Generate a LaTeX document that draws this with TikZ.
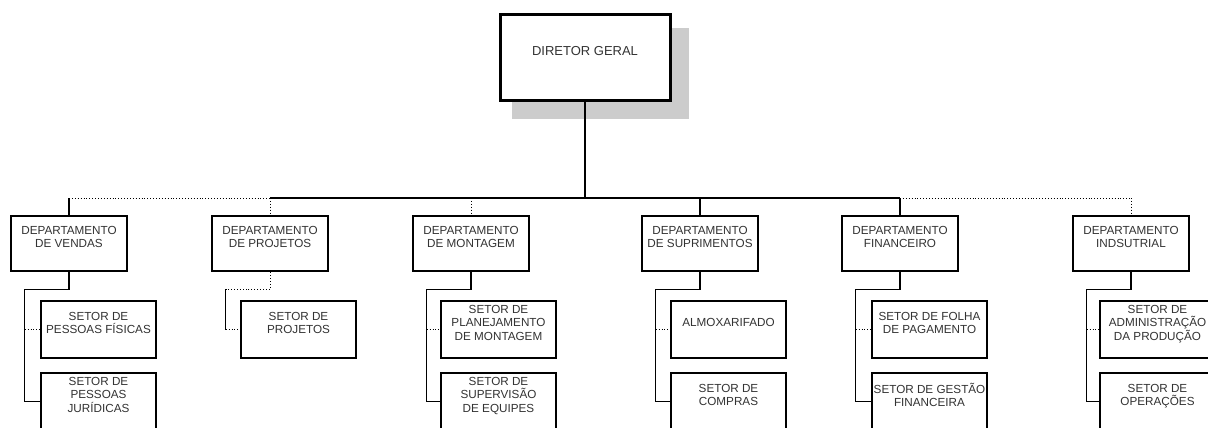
\documentclass[tikz,border=0pt]{standalone}
\usepackage{fontspec}
\setmainfont{Liberation Sans}
\usetikzlibrary{calc,backgrounds}
\begin{document}
\begin{tikzpicture}[x=1pt,y=-1pt,
  txt/.style={font=\fontsize{11.7}{13.5}\selectfont, text=black!80, align=center, inner sep=0pt},
  director/.style={txt, draw=black, line width=3pt, fill=white,
    minimum width=170pt, minimum height=85pt, font=\fontsize{13}{13.5}\selectfont},
  dept/.style={txt, draw=black, line width=2.6pt, fill=white,
    minimum width=116pt, minimum height=55pt},
  sector/.style={txt, draw=black, line width=1.2pt, fill=white,
    minimum width=115pt, minimum height=57pt},
  bus/.style={line width=1.5pt},
  drop/.style={line width=1.1pt},
  dotline/.style={line width=0.9pt, dotted},
  rail/.style={line width=1.4pt},
]
\useasboundingbox (0,0) rectangle (1208,428);

% top of the chart
\node[director] (dir) at (585,57.5) {DIRETOR GERAL\\\mbox{}};
\begin{scope}[on background layer]
  \fill[black!20] ($(dir.north west)+(13,15)$) rectangle ($(dir.south east)+(17,17)$);
\end{scope}

% departments
\node[dept] (dV) at (69,243.5)   {DEPARTAMENTO\\DE VENDAS\\\mbox{}};
\node[dept] (dP) at (270,243.5)  {DEPARTAMENTO\\DE PROJETOS\\\mbox{}};
\node[dept] (dM) at (471,243.5)  {DEPARTAMENTO\\DE MONTAGEM\\\mbox{}};
\node[dept] (dS) at (700,243.5)  {DEPARTAMENTO\\DE SUPRIMENTOS\\\mbox{}};
\node[dept] (dF) at (900,243.5)  {DEPARTAMENTO\\FINANCEIRO\\\mbox{}};
\node[dept] (dI) at (1131,243.5) {DEPARTAMENTO\\INDSUTRIAL\\\mbox{}};

% sectors
\node[sector] (sV1) at (98.5,329.5)   {SETOR DE\\PESSOAS FÍSICAS\\\mbox{}};
\node[sector] (sV2) at (98.5,401.5)   {SETOR DE\\PESSOAS\\JURÍDICAS\\\mbox{}};
\node[sector] (sP1) at (298.5,329.5)  {SETOR DE\\PROJETOS\\\mbox{}};
\node[sector] (sM1) at (498.5,329.5)  {SETOR DE\\PLANEJAMENTO\\DE MONTAGEM\\\mbox{}};
\node[sector] (sM2) at (498.5,401.5)  {SETOR DE\\SUPERVISÃO\\DE EQUIPES\\\mbox{}};
\node[sector] (sS1) at (728.5,329.5)  {ALMOXARIFADO\\\mbox{}};
\node[sector] (sS2) at (728.5,401.5)  {SETOR DE\\COMPRAS\\\mbox{}};
\node[sector] (sF1) at (929.5,329.5)  {SETOR DE FOLHA\\DE PAGAMENTO\\\mbox{}};
\node[sector] (sF2) at (929.5,401.5)  {SETOR DE GESTÃO\\FINANCEIRA\\\mbox{}};
\node[sector] (sI1) at (1157.5,329.5) {SETOR DE\\ADMINISTRAÇÃO\\DA PRODUÇÃO\\\mbox{}};
\node[sector] (sI2) at (1157.5,401.5) {SETOR DE\\OPERAÇÕES\\\mbox{}};

% main bus
\coordinate (bus) at (585,198);
\foreach \k in {V,P,M,S,F,I}
  \coordinate (j\k) at (d\k.north |- bus);
\draw[bus] (dir.south) -- (bus);
\draw[dotline] (jV) -- (jP);
\draw[bus] (jP) -- (jF);
\draw[dotline] (jF) -- (jI);
\draw[drop] (jV) -- (dV.north);
\draw[dotline] (jP) -- (dP.north);
\draw[dotline] (jM) -- (dM.north);
\draw[drop] (jS) -- (dS.north);
\draw[drop] (jF) -- (dF.north);
\draw[dotline] (jI) -- (dI.north);

% department to sector rails
\foreach \k in {V,P,M,S,F,I}
  \coordinate (r\k) at ($(d\k.south west)+(15,17)$);
\foreach \k in {V,M,S,F,I}{
  \draw[rail] (d\k.south) |- (r\k) -- (r\k |- s\k2.west) -- (s\k2.west);
  \draw[dotline] (r\k |- s\k1.west) -- (s\k1.west);
}
\draw[dotline] (dP.south) |- (rP);
\draw[rail] (rP) -- (rP |- sP1.west);
\draw[dotline] (rP |- sP1.west) -- (sP1.west);
\end{tikzpicture}
\end{document}
